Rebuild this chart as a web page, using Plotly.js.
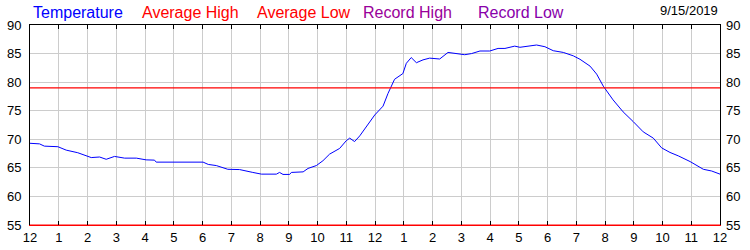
<!DOCTYPE html>
<html>
<head>
<meta charset="utf-8">
<script src="https://cdn.plot.ly/plotly-3.0.1.min.js"></script>
<style>html,body{margin:0;padding:0;background:#fff;}#chart{width:750px;height:250px;}</style>
</head>
<body>
<div id="chart"></div>
<script>
// Hours since midnight
const hours = [0,0.33,0.5,0.97,1.26,1.66,2.13,2.42,2.65,2.94,3.29,3.7,4.04,4.33,4.39,6.02,6.2,6.48,6.88,7.29,7.75,8.05,8.57,8.68,8.8,9.03,9.09,9.5,9.67,9.96,10.19,10.42,10.77,11.0,11.12,11.29,11.47,11.7,11.99,12.28,12.45,12.68,12.97,13.09,13.26,13.44,13.67,13.9,14.25,14.54,14.89,15.12,15.36,15.65,15.99,16.28,16.52,16.86,17.04,17.27,17.62,17.91,18.2,18.55,18.9,19.13,19.48,19.71,19.94,20.28,20.63,20.98,21.33,21.68,21.97,22.26,22.55,22.96,23.42,23.71,24];
const temperature = [69.3,69.2,68.8,68.7,68.1,67.65,66.8,66.9,66.5,67.0,66.7,66.7,66.4,66.35,66.0,66.0,65.6,65.4,64.75,64.7,64.2,63.9,63.9,64.2,63.85,63.85,64.2,64.3,64.9,65.4,66.25,67.4,68.4,69.75,70.2,69.6,70.6,72.3,74.25,75.8,78.0,80.5,81.5,83.3,84.3,83.4,83.9,84.2,84.05,85.2,84.9,84.8,85.0,85.45,85.45,85.9,85.9,86.3,86.1,86.3,86.5,86.2,85.5,85.2,84.6,84.0,82.8,81.4,79.3,76.9,74.8,73.1,71.3,70.2,68.5,67.7,67.1,66.1,64.75,64.45,63.9];
const avgHours = [0,24];
const averageHigh = [79,79];
const averageLow = [55,55];
const tickHours = [0,1,2,3,4,5,6,7,8,9,10,11,12,13,14,15,16,17,18,19,20,21,22,23,24];
const tickLabels = ['12','1','2','3','4','5','6','7','8','9','10','11','12','1','2','3','4','5','6','7','8','9','10','11','12'];
const yTicks = [55,60,65,70,75,80,85,90];
const legendNames = ['Temperature','Average High','Average Low','Record High','Record Low'];
const legendColors = ['#0000ff','#ff0000','#ff0000','#990099','#8800aa'];
const legendX = [0.001,0.159,0.326,0.480,0.646];
const dateLabel = '9/15/2019';

const font = {family:'"Liberation Sans", Arial, sans-serif', size:13, color:'#000'};

const traces = [
  {x:hours, y:temperature, type:'scatter', mode:'lines', line:{color:'#0000ff', width:1}, hoverinfo:'skip'},
  {x:avgHours, y:averageHigh, type:'scatter', mode:'lines', line:{color:'#ff0000', width:1.3}, xaxis:'x2', hoverinfo:'skip'},
  {x:avgHours, y:averageLow, type:'scatter', mode:'lines', line:{color:'#ff0000', width:1}, yaxis:'y2', hoverinfo:'skip'}
];

const annotations = legendNames.map((n,i)=>({
  text:n, x:legendX[i], y:1.065, xref:'paper', yref:'paper', xanchor:'left', yanchor:'middle',
  showarrow:false, font:{family:font.family, size:16, color:legendColors[i]}
}));
annotations.push({text:dateLabel, x:1.0, y:1.07, xref:'paper', yref:'paper', xanchor:'right', yanchor:'middle',
  showarrow:false, font:{family:font.family, size:13, color:'#000'}});

const layout = {
  width:750, height:250,
  margin:{l:30, r:30, t:25, b:25, pad:0},
  paper_bgcolor:'#fff', plot_bgcolor:'#fff',
  showlegend:false,
  font:font,
  xaxis:{range:[0,24], tickvals:tickHours, ticktext:tickLabels, showgrid:true, gridcolor:'#cccccc', gridwidth:1,
    ticks:'inside', ticklen:4, tickcolor:'#000', showline:true, linecolor:'#ff0000', linewidth:1, zeroline:false,
    tickfont:font, fixedrange:true},
  xaxis2:{range:[0,24], overlaying:'x', side:'top', tickvals:tickHours, showticklabels:false, showgrid:false,
    ticks:'inside', ticklen:4, tickcolor:'#000', showline:true, linecolor:'#000', linewidth:1, zeroline:false},
  yaxis:{range:[55,90], tickvals:yTicks, showgrid:true, gridcolor:'#cccccc', gridwidth:1, ticks:'', showline:true,
    linecolor:'#000', linewidth:1, mirror:true, zeroline:false, tickfont:font, ticklabelstandoff:5},
  yaxis2:{range:[55,90], tickvals:yTicks, overlaying:'y', side:'right', showgrid:false, ticks:'', showline:false,
    zeroline:false, tickfont:font, ticklabelstandoff:5},
  annotations:annotations
};

Plotly.newPlot('chart', traces, layout, {staticPlot:true, displayModeBar:false});
</script>
</body>
</html>
